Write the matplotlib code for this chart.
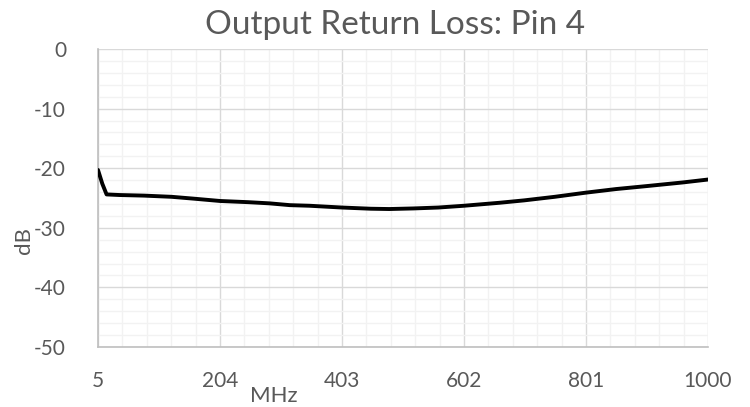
import numpy as np
import matplotlib
matplotlib.use("Agg")
import matplotlib.pyplot as plt
from matplotlib.ticker import FixedLocator

# readings
freq_mhz = [5, 12, 19, 40, 80, 125, 160, 204, 250, 285, 318, 350, 403, 450, 480,
            520, 560, 602, 660, 700, 750, 801, 850, 900, 958, 1000]
return_loss_db = [-20.3, -22.6, -24.4, -24.5, -24.6, -24.8, -25.1, -25.5, -25.7, -25.9,
                  -26.2, -26.3, -26.6, -26.8, -26.85, -26.75, -26.6, -26.3, -25.8, -25.4,
                  -24.8, -24.1, -23.5, -23.0, -22.4, -21.9]
x_ticks = [5, 204, 403, 602, 801, 1000]
y_ticks = [0, -10, -20, -30, -40, -50]

txt = "#595959"
plt.rcParams['font.family'] = ['Lato', 'DejaVu Sans']
plt.rcParams['axes.unicode_minus'] = False

fig = plt.figure(figsize=(7.5, 4.07), dpi=100)
ax = fig.add_axes([98/750, 1-347/407, 610/750, 298/407])

ax.plot(freq_mhz, return_loss_db, color="black", lw=2.8, solid_capstyle="round", zorder=3)

ax.set_xlim(5, 1000)
ax.set_ylim(-50, 0)
ax.set_xticks(x_ticks)
ax.set_xticklabels([str(v) for v in x_ticks])
ax.set_yticks(y_ticks)
ax.xaxis.set_minor_locator(FixedLocator(np.linspace(5, 1000, 26)))
ax.yaxis.set_minor_locator(FixedLocator(np.arange(-50, 1, 2)))

ax.grid(which="minor", color="#f2f2f2", lw=1.0, zorder=0)
ax.grid(which="major", color="#d9d9d9", lw=1.0, zorder=1)
ax.set_axisbelow(True)

for s in ["top", "right"]:
    ax.spines[s].set_visible(False)
for s in ["left", "bottom"]:
    ax.spines[s].set_color("#bfbfbf")
    ax.spines[s].set_linewidth(1.2)

ax.tick_params(which="both", length=0, labelsize=15, colors=txt)
ax.tick_params(axis="x", pad=17)
ax.tick_params(axis="y", pad=23)

fig.text(395/750, 1-25/407, "Output Return Loss: Pin 4", ha="center", va="center",
         fontsize=24, color=txt)
fig.text(274/750, 1-396/407, "MHz", ha="center", va="center", fontsize=16, color=txt)
fig.text(24/750, 1-240/407, "dB", ha="center", va="center", rotation=90,
         fontsize=16, color=txt)

fig.savefig("out.png", dpi=100)
